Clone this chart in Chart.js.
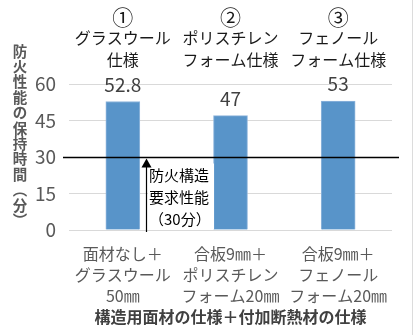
<!DOCTYPE html>
<html>
<head>
<meta charset="utf-8">
<script src="https://cdn.jsdelivr.net/npm/chart.js@4/dist/chart.umd.min.js"></script>
<style>
  html, body { margin: 0; padding: 0; background: #fff; }
  #wrap { width: 416px; height: 335px; position: relative; }
</style>
</head>
<body>
<div id="wrap"><canvas id="chart" width="416" height="335"></canvas></div>
<script>
// === DATA ===
const categories = [
  ["面材なし＋", "グラスウール", "50㎜"],
  ["合板9㎜＋", "ポリスチレン", "フォーム20㎜"],
  ["合板9㎜＋", "フェノール", "フォーム20㎜"]
];
const topNumbers = ["①", "②", "③"];
const topLabels = [
  ["グラスウール", "仕様"],
  ["ポリスチレン", "フォーム仕様"],
  ["フェノール", "フォーム仕様"]
];
const values = [52.8, 47, 53];
const valueLabels = ["52.8", "47", "53"];
const yTicks = [0, 15, 30, 45, 60];
const requiredLevel = 30;
const noteLines = ["防火構造", "要求性能", "（30分）"];
const yTitle = ["防", "火", "性", "能", "の", "保", "持", "時", "間", "︵", "分", "︶"];
const xTitle = "構造用面材の仕様＋付加断熱材の仕様";

const FONT = "'Noto Sans CJK JP', 'Noto Sans', sans-serif";

// === extra drawing ===
const extras = {
  id: "extras",
  afterDatasetsDraw(chart) {
    const { ctx } = chart;
    const x = chart.scales.x, y = chart.scales.y;
    ctx.save();

    // data labels
    ctx.font = "19px " + FONT;
    ctx.fillStyle = "#404040";
    ctx.textAlign = "center";
    ctx.textBaseline = "middle";
    values.forEach((v, i) => {
      ctx.fillText(valueLabels[i], x.getPixelForValue(i), y.getPixelForValue(v) - 17);
    });

    // top labels
    ctx.fillStyle = "#1a1a1a";
    topLabels.forEach((lines, i) => {
      const cx = x.getPixelForValue(i);
      ctx.font = "21px " + FONT;
      ctx.fillText(topNumbers[i], cx, 17);
      ctx.font = "16px " + FONT;
      lines.forEach((t, k) => {
        ctx.fillText(t, cx, 38 + k * 21.5);
      });
    });

    // 30 min line
    const yl = Math.round(y.getPixelForValue(requiredLevel)) + 0.5;
    ctx.strokeStyle = "#000";
    ctx.lineWidth = 1.5;
    ctx.beginPath();
    ctx.moveTo(63, yl);
    ctx.lineTo(399, yl);
    ctx.stroke();

    // note box
    ctx.fillStyle = "#fff";
    ctx.fillRect(148, yl + 6, 66, y.getPixelForValue(0) - yl - 7);
    ctx.fillStyle = "#000";
    ctx.font = "15px " + FONT;
    ctx.textAlign = "left";
    noteLines.forEach((t, k) => {
      ctx.fillText(t, 149, yl + 18 + k * 22);
    });

    // arrow
    const ax = 146.5;
    ctx.lineWidth = 1.2;
    ctx.beginPath();
    ctx.moveTo(ax, y.getPixelForValue(0) + 2);
    ctx.lineTo(ax, yl + 8);
    ctx.stroke();
    ctx.beginPath();
    ctx.moveTo(ax, yl + 1);
    ctx.lineTo(ax - 5, yl + 10);
    ctx.lineTo(ax + 5, yl + 10);
    ctx.closePath();
    ctx.fill();

    // y title, stacked
    ctx.font = "bold 14.5px " + FONT;
    ctx.fillStyle = "#595959";
    ctx.textAlign = "center";
    yTitle.forEach((c, k) => {
      ctx.fillText(c, 20, 51 + k * 15.4);
    });

    // right border
    ctx.strokeStyle = "#dcdcdc";
    ctx.lineWidth = 1;
    ctx.beginPath();
    ctx.moveTo(412.5, 0);
    ctx.lineTo(412.5, 335);
    ctx.stroke();

    ctx.restore();
  }
};

new Chart(document.getElementById("chart").getContext("2d"), {
  type: "bar",
  data: {
    labels: categories,
    datasets: [{
      data: values,
      backgroundColor: "#5894C9",
      borderColor: "#8fb5dc",
      borderWidth: { left: 1, right: 1, top: 1, bottom: 0 },
      barThickness: 34
    }]
  },
  options: {
    responsive: false,
    animation: false,
    layout: { padding: { top: 84, left: 0, right: 24, bottom: 0 } },
    plugins: { legend: { display: false }, tooltip: { enabled: false } },
    scales: {
      x: {
        afterFit: s => { s.height = 105; },
        grid: { display: false },
        border: { display: false },
        ticks: { color: "#595959", font: { family: FONT, size: 16, lineHeight: 1.32 }, padding: 5, maxRotation: 0, autoSkip: false },
        title: { display: true, text: xTitle, color: "#404040", font: { family: FONT, size: 16, weight: "bold" }, padding: { top: 0, bottom: 8 } }
      },
      y: {
        min: 0,
        max: 60,
        afterFit: s => { s.width = 69; },
        afterBuildTicks: s => { s.ticks = yTicks.map(v => ({ value: v })); },
        grid: { color: "#d9d9d9", drawTicks: false },
        border: { display: false },
        ticks: { color: "#595959", font: { family: FONT, size: 19 }, padding: 13 }
      }
    }
  },
  plugins: [extras]
});
</script>
</body>
</html>
